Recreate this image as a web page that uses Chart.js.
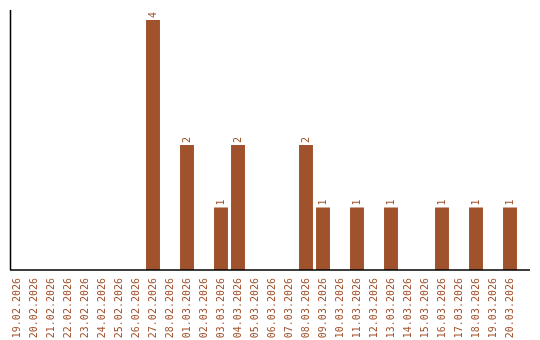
<!DOCTYPE html>
<html>
<head>
<meta charset="utf-8">
<script src="https://cdn.jsdelivr.net/npm/chart.js@4/dist/chart.umd.min.js"></script>
<style>
  html, body { margin: 0; padding: 0; background: #fff; }
  #wrap { width: 540px; height: 340px; }
</style>
</head>
<body>
<div id="wrap"><canvas id="c"></canvas></div>
<script>
const dias = [
    "19.02.2026", "20.02.2026", "21.02.2026", "22.02.2026", "23.02.2026",
    "24.02.2026", "25.02.2026", "26.02.2026", "27.02.2026", "28.02.2026",
    "01.03.2026", "02.03.2026", "03.03.2026", "04.03.2026", "05.03.2026",
    "06.03.2026", "07.03.2026", "08.03.2026", "09.03.2026", "10.03.2026",
    "11.03.2026", "12.03.2026", "13.03.2026", "14.03.2026", "15.03.2026",
    "16.03.2026", "17.03.2026", "18.03.2026", "19.03.2026", "20.03.2026"
];
const totales = [
    0, 0, 0, 0, 0, 0, 0, 0, 4, 0,
    2, 0, 1, 2, 0, 0, 0, 2, 1, 0,
    1, 0, 1, 0, 0, 1, 0, 1, 0, 1
];

const color = "#a0522d";
const fuente = "'DejaVu Sans Mono', monospace";

// ejes dibujados a mano + etiquetas de valor giradas
const ejesYValores = {
    id: "ejesYValores",
    afterDatasetsDraw(chart) {
        const ctx = chart.ctx;
        const a = chart.chartArea;
        ctx.save();
        ctx.strokeStyle = "#000";
        ctx.lineWidth = 1.5;
        ctx.beginPath();
        ctx.moveTo(10.5, a.top);
        ctx.lineTo(10.5, a.bottom);
        ctx.moveTo(10, a.bottom);
        ctx.lineTo(530, a.bottom);
        ctx.stroke();

        ctx.fillStyle = color;
        ctx.font = "10px " + fuente;
        ctx.textAlign = "left";
        ctx.textBaseline = "middle";
        const meta = chart.getDatasetMeta(0);
        meta.data.forEach((bar, i) => {
            const v = totales[i];
            if (!v) return;
            ctx.save();
            ctx.translate(bar.x, bar.y - 2);
            ctx.rotate(-Math.PI / 2);
            ctx.fillText(String(v), 0, 0);
            ctx.restore();
        });
        ctx.restore();
    }
};

new Chart(document.getElementById("c"), {
    type: "bar",
    data: {
        labels: dias,
        datasets: [
            {
                label: "Total",
                data: totales,
                backgroundColor: color,
                barPercentage: 0.82,
                categoryPercentage: 1
            }
        ]
    },
    options: {
        responsive: true,
        maintainAspectRatio: false,
        animation: false,
        layout: {
            padding: { top: 10, left: 8.5, right: 21.5, bottom: 0 }
        },
        plugins: {
            legend: { display: false },
            tooltip: { enabled: false }
        },
        scales: {
            x: {
                grid: { display: false, drawTicks: false },
                border: { display: false },
                afterFit(scale) { scale.height = 70; },
                ticks: {
                    color: color,
                    font: { family: fuente, size: 10 },
                    minRotation: 90,
                    maxRotation: 90,
                    autoSkip: false,
                    padding: 8
                }
            },
            y: {
                display: false,
                min: 0,
                max: 4.16
            }
        }
    },
    plugins: [ejesYValores]
});
</script>
</body>
</html>
